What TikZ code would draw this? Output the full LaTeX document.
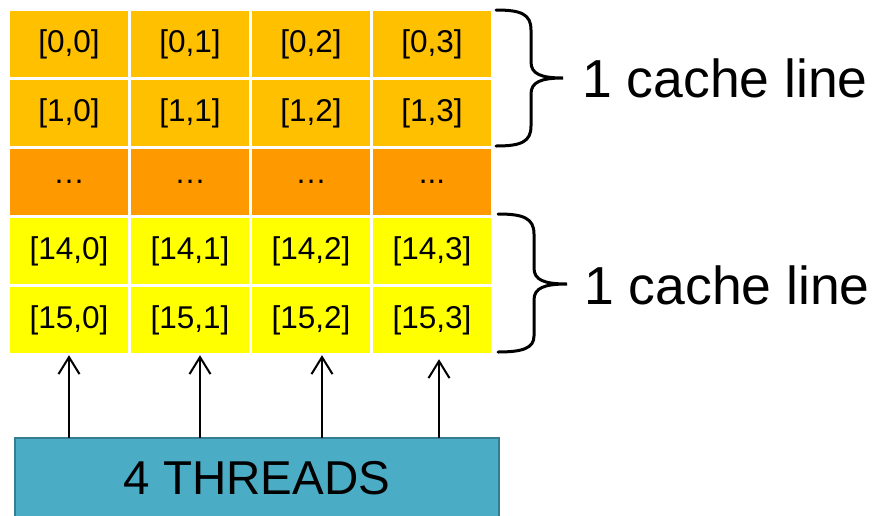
\documentclass[tikz,border=0pt]{standalone}
\usepackage{fontspec}
\setmainfont{Liberation Sans}
\usetikzlibrary{arrows.meta}

\definecolor{lineorange}{HTML}{FFC000}
\definecolor{midorange}{HTML}{FF9900}
\definecolor{lineyellow}{HTML}{FFFF00}
\definecolor{threadblue}{HTML}{4BACC6}
\definecolor{threadedge}{HTML}{357D91}

\tikzset{
  cell/.style={minimum width=118pt,minimum height=66pt,inner sep=0pt,
    font=\fontsize{31.5}{36}\selectfont},
  cachebrace/.style={line width=3pt,line cap=round},
  cachelabel/.style={anchor=west,inner sep=0pt,font=\fontsize{53.5}{60}\selectfont},
  threadbox/.style={draw=threadedge,fill=threadblue,line width=1.5pt,
    minimum width=484pt,minimum height=80pt,font=\fontsize{47.5}{55}\selectfont},
  threadarrow/.style={line width=2pt,-{Straight Barb[length=17pt,width=21pt,line width=2pt]}}
}

\begin{document}
\begin{tikzpicture}[x=1pt,y=-1pt]
\useasboundingbox (0,0) rectangle (873,515);

% array rows, 4 columns each
\foreach \r/\y/\col in {0/44/lineorange,1/113/lineorange,14/251/lineyellow,15/320/lineyellow}
  \foreach \j in {0,...,3}
    \node[cell,fill=\col] (m\r-\j) at (69+121*\j,\y) {[\r,\j]};
\foreach \j in {0,1,2}
  \node[cell,fill=midorange] (mdots-\j) at (69+121*\j,182) {…};
\node[cell,fill=midorange] (mdots-3) at (432,182) {...};

% braces
\draw[cachebrace] (496,10) .. controls (521,10) and (531,14) .. (531,30) -- (531,62)
  .. controls (531,74) and (541,78) .. (563,78)
  .. controls (541,78) and (531,82) .. (531,94) -- (531,126)
  .. controls (531,142) and (521,146) .. (496,146);
\draw[cachebrace] (498,214) .. controls (523,214) and (534,218) .. (534,234) -- (534,268)
  .. controls (534,280) and (544,284) .. (567,284)
  .. controls (544,284) and (534,288) .. (534,300) -- (534,336)
  .. controls (534,348) and (523,352) .. (498,352);
\node[cachelabel] (topline) at (582,78) {1 cache line};
\node[cachelabel] (lowline) at (584,285) {1 cache line};

% threads
\node[threadbox] (threads) at (257,478) {4 THREADS};
\foreach \j/\x/\s in {0/69/2,1/200/2,2/322/2,3/439/6} {
  \coordinate (t\j) at (\x,438);
  \draw[threadarrow,shorten >=\s pt] (t\j) -- (t\j |- m15-\j.south);
}
\end{tikzpicture}
\end{document}
